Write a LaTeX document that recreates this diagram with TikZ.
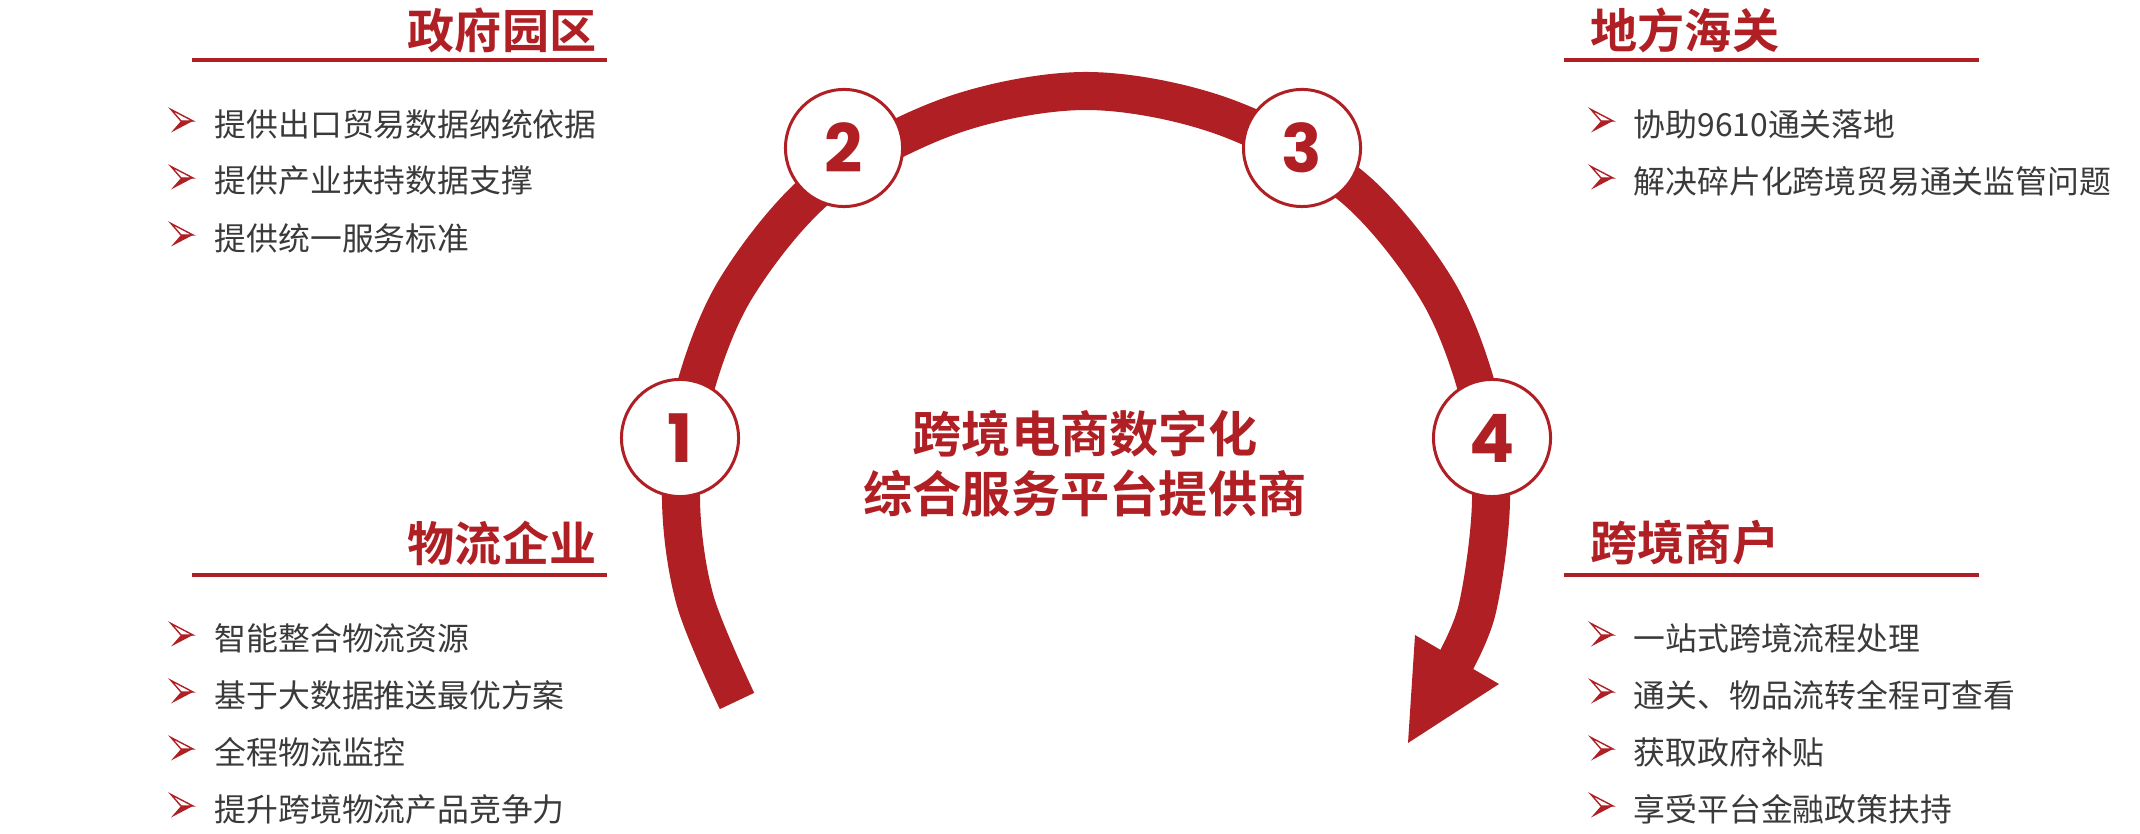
\documentclass[tikz,border=0pt]{standalone}
\usepackage{fontspec}
\usepackage{tikz}
\usetikzlibrary{arrows.meta,positioning}
\newfontfamily\cjk{Noto Sans CJK SC}
\newfontfamily\cjkbold{Noto Sans CJK SC Bold}
\newfontfamily\numfont{Poppins Bold}
\definecolor{TradeRed}{RGB}{176,31,36}
\definecolor{BodyGray}{RGB}{58,58,58}

\begin{document}
\begin{tikzpicture}[x=0.01cm,y=-0.01cm,
  head/.style={font=\cjkbold\fontsize{13.4}{16}\selectfont,text=TradeRed,inner sep=0pt},
  item/.style={font=\cjk\fontsize{9.05}{11}\selectfont,text=BodyGray,inner sep=0pt,anchor=west},
  rule/.style={draw=TradeRed,line width=0.034cm},
  stepnum/.style={circle,draw=TradeRed,line width=0.03cm,fill=white,minimum size=1.17cm,inner sep=0pt,
    font=\numfont\fontsize{19}{19}\selectfont,text=TradeRed},
  band/.style={draw=TradeRed,line width=0.38cm},
  bulletmark/.pic={
    \draw[TradeRed,line width=0.4pt,line join=miter] (-11,-11.5) -- (11,0) -- (-1,0) -- cycle;
    \fill[TradeRed] (-1,0) -- (11,0) -- (-11,11.5) -- cycle;
  }]
\useasboundingbox (0,0) rectangle (2140,834);

% the big curved arrow
\draw[band] plot[smooth,tension=0.55] coordinates {(737,701) (695,600) (681,500) (692,400) (735,290)
  (822,185) (950,116) (1086,91) (1222,116) (1350,185) (1437,290) (1480,400) (1491,500)
  (1477,610) (1450,672)};
\coordinate (hb1) at (1415,635);
\coordinate (hb2) at (1499,684);
\coordinate (tip) at (1408,743);
\fill[TradeRed] (hb1) -- (hb2) -- (tip) -- cycle;

% steps
\node[stepnum] (s1) at (680,438) {1};
\node[stepnum] (s2) at (844,148) {2};
\node[stepnum] (s3) at (1302,148) {3};
\node[stepnum] (s4) at (1492,438) {4};

\node[font=\cjkbold\fontsize{14}{17.1}\selectfont,text=TradeRed,align=center,inner sep=0pt] (hub)
  at (1085,464) {跨境电商数字化\\综合服务平台提供商};

% headings
\node[head,anchor=east] (gov) at (597,30) {政府园区};
\draw[rule] (192,60) -- (607,60);
\node[head,anchor=west] (customs) at (1590,30) {地方海关};
\draw[rule] (1564,60) -- (1979,60);
\node[head,anchor=east] (logi) at (597,543) {物流企业};
\draw[rule] (192,575) -- (607,575);
\node[head,anchor=west] (seller) at (1590,543) {跨境商户};
\draw[rule] (1564,575) -- (1979,575);

% bullet lists
\foreach \t [count=\i] in {提供出口贸易数据纳统依据,提供产业扶持数据支撑,提供统一服务标准}{
  \node[item] (gov-\i) at (214,{124+57*(\i-1)}) {\t};
  \pic at (182,{121+57*(\i-1)}) {bulletmark};
}
\foreach \t [count=\i] in {协助9610通关落地,解决碎片化跨境贸易通关监管问题}{
  \node[item] (customs-\i) at (1633,{124+57*(\i-1)}) {\t};
  \pic at (1602,{121+57*(\i-1)}) {bulletmark};
}
\foreach \t [count=\i] in {智能整合物流资源,基于大数据推送最优方案,全程物流监控,提升跨境物流产品竞争力}{
  \node[item] (logi-\i) at (214,{638+57*(\i-1)}) {\t};
  \pic at (182,{635+57*(\i-1)}) {bulletmark};
}
\foreach \t [count=\i] in {一站式跨境流程处理,通关、物品流转全程可查看,获取政府补贴,享受平台金融政策扶持}{
  \node[item] (seller-\i) at (1633,{638+57*(\i-1)}) {\t};
  \pic at (1602,{635+57*(\i-1)}) {bulletmark};
}
\end{tikzpicture}
\end{document}
